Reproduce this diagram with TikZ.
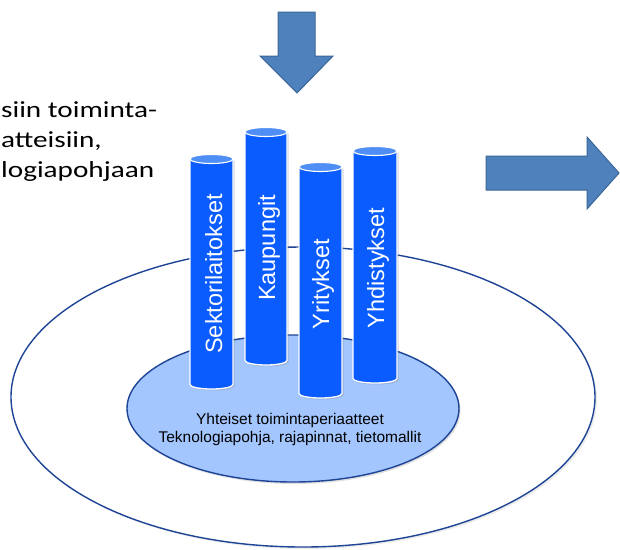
\documentclass[tikz,border=0pt]{standalone}
\usepackage{fontspec}
\setmainfont{Liberation Sans}
\newfontfamily\calibrifont[FakeStretch=1.27]{Carlito}
\usepackage{xcolor}
\usepackage{tikz}
\usetikzlibrary{shapes.geometric, shadows, positioning}
\definecolor{ringnavy}{HTML}{1E4496}
\definecolor{baseblue}{HTML}{A3C6FF}
\definecolor{pillarblue}{HTML}{0A5CFF}
\definecolor{pillarcap}{HTML}{4F8EF5}
\definecolor{arrowfill}{HTML}{4F81BD}
\definecolor{arrowline}{HTML}{3A6597}

\tikzset{
    ring/.style={ellipse, draw=ringnavy, line width=1.4pt, inner sep=0pt},
    pillar/.style={fill=pillarblue, draw=white, line width=1.3pt,
        drop shadow={opacity=0.3, shadow xshift=1.5pt, shadow yshift=-1.5pt}},
    pillartop/.style={fill=pillarcap, draw=white, line width=1.1pt},
    pillartext/.style={text=white, rotate=90, anchor=base, inner sep=0pt,
        font=\fontsize{23.5}{26}\selectfont},
    bigarrow/.style={fill=arrowfill, draw=arrowline, line width=1pt, line join=miter},
    sidetext/.style={anchor=base west, inner sep=0pt,
        font=\calibrifont\fontsize{23}{26}\selectfont}
}

\begin{document}
\begin{tikzpicture}[x=1pt, y=-1pt]
    \useasboundingbox (0,0) rectangle (620,549);

    % Outer ring and common base
    \node[ring, fill=white, minimum width=584, minimum height=300,
        drop shadow={opacity=0.15, shadow xshift=2pt, shadow yshift=-2pt}] (outer) at (303,397) {};
    \node[ring, fill=baseblue, minimum width=332, minimum height=147,
        drop shadow={opacity=0.25, shadow xshift=1.5pt, shadow yshift=-2pt}] (base) at (293,408.5) {};
    \node[align=center, inner sep=0pt, font=\fontsize{15.5}{18}\selectfont]
        (common) at (290,429.5) {Yhteiset toimintaperiaatteet\\Teknologiapohja, rajapinnat, tietomallit};

    % Pillars
    \draw[pillar] (190,159) -- (190,384.5) arc[start angle=180, end angle=0, x radius=21.5, y radius=4.5] -- (233,159) -- cycle;
    \draw[pillartop] (211.5,159) ellipse[x radius=21.5, y radius=4.5];
    \node[pillartext] (sektori) at (222,274) {Sektorilaitokset};

    \draw[pillar] (245,132) -- (245,360.5) arc[start angle=180, end angle=0, x radius=21, y radius=4.5] -- (287,132) -- cycle;
    \draw[pillartop] (266,132) ellipse[x radius=21, y radius=4.5];
    \node[pillartext] (kaupungit) at (275,248) {Kaupungit};

    \draw[pillar] (299,167) -- (299,393.5) arc[start angle=180, end angle=0, x radius=21.5, y radius=4.5] -- (342,167) -- cycle;
    \draw[pillartop] (320.5,167) ellipse[x radius=21.5, y radius=4.5];
    \node[pillartext] (yritykset) at (329,284) {Yritykset};

    \draw[pillar] (353,151) -- (353,378.5) arc[start angle=180, end angle=0, x radius=22, y radius=4.5] -- (397,151) -- cycle;
    \draw[pillartop] (375,151) ellipse[x radius=22, y radius=4.5];
    \node[pillartext] (yhdistykset) at (384,268) {Yhdistykset};

    % Block arrows
    \draw[bigarrow] (278,12) -- (315,12) -- (315,56) -- (333,56) -- (297,93) -- (260,56) -- (278,56) -- cycle;
    \draw[bigarrow] (486,156) -- (587,156) -- (587,137) -- (619,173) -- (587,209) -- (587,190) -- (486,190) -- cycle;

    % Text starting at the left edge
    \node[sidetext] (line1) at (1,117) {siin toiminta-};
    \node[sidetext] (line2) at (1,147) {atteisiin,};
    \node[sidetext] (line3) at (1,177) {logiapohjaan};
\end{tikzpicture}
\end{document}
